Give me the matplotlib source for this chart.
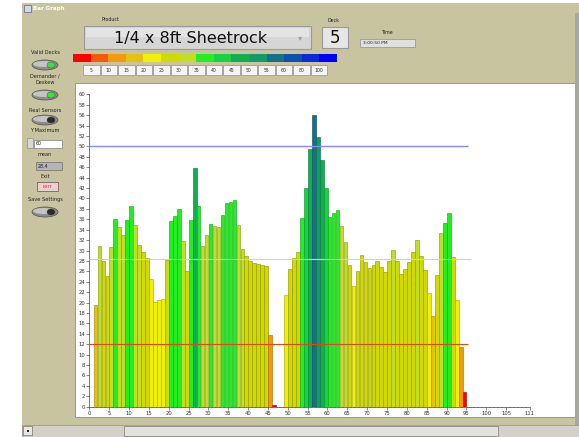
import numpy as np
import matplotlib
matplotlib.use("Agg")
import matplotlib.pyplot as plt
from matplotlib.patches import Rectangle, Ellipse
from matplotlib.colors import LinearSegmentedColormap, to_rgb

# bar heights for sensors 1..94
values = [19.6, 30.9, 27.9, 25.1, 30.7, 36.0, 34.6, 33.0, 35.9, 38.6,
          34.9, 31.0, 29.8, 28.5, 24.5, 20.2, 20.4, 20.7, 28.2, 35.6,
          36.7, 38.0, 31.9, 26.0, 35.9, 45.8, 38.5, 30.9, 32.9, 35.1,
          34.7, 34.6, 36.9, 39.1, 39.4, 39.7, 34.9, 30.3, 28.9, 28.0,
          27.6, 27.4, 27.2, 27.1, 13.8, 0.4, 0.0, 0.0, 21.5, 26.5,
          28.5, 29.8, 36.3, 42.0, 49.5, 56.0, 51.8, 47.4, 42.0, 36.4,
          37.2, 37.8, 34.7, 31.7, 27.3, 23.1, 26.1, 29.2, 27.8, 26.7,
          27.2, 27.9, 26.9, 25.9, 27.9, 30.1, 27.9, 25.5, 26.5, 27.8,
          29.8, 32.1, 28.9, 26.3, 21.8, 17.5, 25.3, 33.3, 35.3, 37.2,
          28.7, 20.5, 11.5, 2.9]
sensors = np.arange(1, len(values) + 1)

level_edges = [5, 10, 15, 20, 25, 30, 35, 40, 45, 50, 55, 60, 80, 100]
level_labels = [str(v) for v in level_edges]
level_colors = ["#ff0000", "#f25a0c", "#f39a0c", "#e6c012", "#f0f000",
                "#d0da00", "#c2de22", "#22ee22", "#14d444", "#12ae52",
                "#129a6a", "#16708c", "#0c50b0", "#0a2cd8", "#0000ff"]

upper_limit = 50
lower_limit = 12
mean_value = 28.4
y_maximum = 60
x_ticks = [0, 5, 10, 15, 20, 25, 30, 35, 40, 45, 50, 55, 60, 65, 70, 75,
           80, 85, 90, 95, 100, 105, 111]

product = "1/4 x 8ft Sheetrock"
deck = "5"
time_text = "3:00:50 PM"

KHAKI = "#c8c4a0"

fig = plt.figure(figsize=(5.79, 4.37), dpi=100)
fig.patch.set_facecolor("white")

# ---- front panel chrome, in pixel coordinates ----
gui = fig.add_axes([0, 0, 1, 1])
gui.axis("off")

gui.add_patch(Rectangle((22, 3), 557, 434, fc=KHAKI, ec="none"))
title_cmap = LinearSegmentedColormap.from_list("title", ["#0a246a", "#a6caf0"])
gui.imshow(np.linspace(0, 1, 256)[None, :], cmap=title_cmap,
           extent=[22, 579, 13, 3], aspect="auto")
gui.add_patch(Rectangle((24, 4.5), 7, 7, fc="#d0d8f0", ec="#404080", lw=0.4))
gui.text(33, 8.3, "Bar Graph", color="white", fontsize=4, weight="bold", va="center")


def label(x, y, s, size=3.6, **kw):
    gui.text(x, y, s, fontsize=size, ha="center", va="center", color="#202020", **kw)


def toggle(cx, cy, led):
    gui.add_patch(Ellipse((cx, cy), 26, 10, fc="#8c8c8c", ec="#505050", lw=0.5))
    gui.add_patch(Ellipse((cx - 1, cy - 1), 22, 6, fc="#c4c4c4", ec="none"))
    gui.add_patch(Ellipse((cx + 6, cy), 8, 6, fc=led, ec="#404040", lw=0.3))


# product selector
label(111, 19.5, "Product", 3.4)
gui.add_patch(Rectangle((84, 26), 227, 23, fc="#d6d6d6", ec="#9a9a9a", lw=0.8))
gui.add_patch(Rectangle((86, 28), 223, 9, fc="#e4e4e4", ec="none"))
gui.text(191, 38.5, product, fontsize=11.5, ha="center", va="center", color="#101010")
gui.text(300, 38, "\u25be", fontsize=6, ha="center", va="center", color="#a0a0a0")

# deck
label(334, 20, "Deck", 3.4)
gui.add_patch(Rectangle((322, 27), 26, 21, fc="#e6e6e6", ec="#9a9a9a", lw=0.8))
gui.text(335, 38, deck, fontsize=12, ha="center", va="center", color="#101010")

# time
label(388, 32, "Time", 3.4)
gui.add_patch(Rectangle((360, 39), 55, 8, fc="#e0e0e0", ec="#9a9a9a", lw=0.6))
gui.text(363, 43.2, time_text, fontsize=3.2, va="center", color="#202020")

# colour legend
cell = 17.6
for k, c in enumerate(level_colors):
    gui.add_patch(Rectangle((73 + k * cell, 54), cell, 8, fc=c, ec="none"))
for k, lab in enumerate(level_labels):
    x0 = 83 + k * 17.5
    gui.add_patch(Rectangle((x0, 65), 16.5, 10, fc="#f4f4f4", ec="#909090", lw=0.5))
    gui.text(x0 + 8.25, 70.2, lab, fontsize=3.3, ha="center", va="center", color="#303030")

# left controls
label(45, 52, "Valid Decks")
toggle(45, 65, "#3ce23c")
label(45, 76, "Demander /")
label(45, 82, "Deskew")
toggle(45, 95, "#3ce23c")
label(45, 110, "Real Sensors")
toggle(45, 120, "#2a2a2a")
label(45, 131, "Y Maximum")
gui.add_patch(Rectangle((27, 138), 6, 10, fc="#d8d8d8", ec="#808080", lw=0.4))
gui.add_patch(Rectangle((34, 139.5), 28, 8, fc="white", ec="#808080", lw=0.5))
gui.text(36, 143.6, str(y_maximum), fontsize=3.4, va="center", color="#202020")
label(45, 155, "mean")
gui.add_patch(Rectangle((36, 162), 26, 8, fc="#b4b4b4", ec="#707070", lw=0.5))
gui.text(38, 166.2, f"{mean_value:.1f}", fontsize=3.4, va="center", color="#202020")
label(45, 177, "Exit")
gui.add_patch(Rectangle((37, 182), 21, 9, fc="#e8d0d0", ec="#806060", lw=0.6))
gui.text(47.5, 186.6, "EXIT", fontsize=3.2, ha="center", va="center", color="#e02020")
label(45, 199, "Save Settings")
toggle(45, 212, "#2a2a2a")

# graph panel
gui.add_patch(Rectangle((75, 83), 500, 334, fc="white", ec="#8c8c8c", lw=0.6))
gui.add_patch(Rectangle((575, 13), 4, 424, fc="#a8a8a0", ec="none"))

# scroll bar
gui.add_patch(Rectangle((22, 425), 557, 12, fc="#d4d0c8", ec="#909090", lw=0.5))
gui.add_patch(Rectangle((23, 426), 9, 9, fc="#e8e8e8", ec="#707070", lw=0.5))
gui.add_patch(Rectangle((26.5, 429.5), 2, 2, fc="#202020", ec="none"))
gui.add_patch(Rectangle((124, 426), 374, 10, fc="#e4e2dc", ec="#8a8a8a", lw=0.6))

gui.set_xlim(0, 579)
gui.set_ylim(437, 0)

# ---- the bar graph ----
ax = fig.add_axes([0.1542, 0.0693, 0.7611, 0.7149])
ax.set_facecolor("white")

bins = np.digitize(values, level_edges)
faces = [level_colors[b] for b in bins]
edges = [tuple(np.array(to_rgb(c)) * 0.72) for c in faces]
ax.bar(sensors + 0.55, values, width=0.92, color=faces, edgecolor=edges, linewidth=0.45, zorder=2)

ax.hlines(upper_limit, 0, 95.5, color="#8888ff", lw=1.0, zorder=3)
ax.hlines(mean_value, 0, 96.2, color="#a6e6cc", lw=0.8, zorder=3)
ax.hlines(lower_limit, 0, 95.5, color="#dc4a1c", lw=0.8, zorder=3)

ax.set_xlim(0, 111)
ax.set_ylim(0, y_maximum)
ax.set_xticks(x_ticks)
ax.set_yticks(np.arange(0, y_maximum + 1, 2))
ax.set_xticks(np.arange(0, 111, 1), minor=True)
ax.tick_params(axis="both", labelsize=3.8, colors="#303030", length=2, width=0.4, pad=1)
ax.tick_params(axis="x", which="minor", length=1, width=0.3)
for side in ("top", "right"):
    ax.spines[side].set_visible(False)
for side in ("left", "bottom"):
    ax.spines[side].set_linewidth(0.5)
    ax.spines[side].set_color("#404040")

fig.savefig("out.png", dpi=100)
